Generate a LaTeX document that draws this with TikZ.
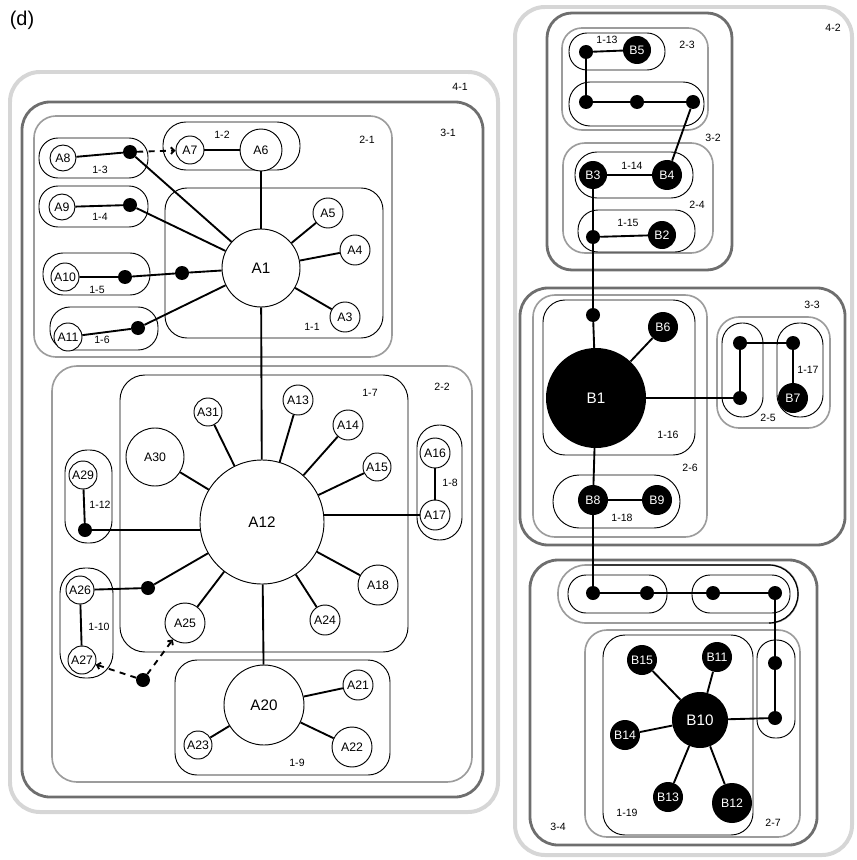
\documentclass[tikz,border=0pt]{standalone}
\usepackage{fontspec}
\setmainfont{Liberation Sans}
\usepackage{tikz}
\usetikzlibrary{arrows.meta}
\definecolor{CFour}{HTML}{D6D6D6}
\definecolor{CThree}{HTML}{6E6E6E}
\definecolor{CTwo}{HTML}{9C9C9C}

\begin{document}
\begin{tikzpicture}[x=0.3mm, y=-0.3mm, every node/.style={inner sep=0pt},
  anode/.style={circle, draw=black, line width=0.8pt, fill=white, minimum size=0.6mm*#1,
                font=\fontsize{10.5}{12}\selectfont},
  hub/.style ={anode=#1, font=\fontsize{13}{15}\selectfont},
  bnode/.style={circle, fill=black, text=white, minimum size=0.6mm*#1,
                font=\fontsize{10.5}{12}\selectfont},
  bhub/.style={bnode=#1, font=\fontsize{13}{15}\selectfont},
  jdot/.style={circle, fill=black, minimum size=4.2mm},
  lone/.style  ={draw=black, line width=0.8pt, rounded corners=0.3mm*#1},
  ltwo/.style  ={draw=CTwo, line width=1.4pt, rounded corners=0.3mm*#1},
  lthree/.style={draw=CThree, line width=2.4pt, rounded corners=0.3mm*#1},
  lfour/.style ={draw=CFour, line width=3.4pt, rounded corners=0.3mm*#1},
  tag/.style={font=\fontsize{9}{10}\selectfont},
  wire/.style={line width=1.6pt},
  weak/.style={wire, dash pattern=on 1.8mm off 1.6mm, -{Straight Barb[length=1mm]}}]
\useasboundingbox (0,0) rectangle (856,860);
\node[font=\fontsize{17}{20}\selectfont] (title) at (22,20) {(d)};
% group A
\draw[lfour=30]  (10,72) rectangle (498,812);
\draw[lthree=28] (22,102) rectangle (483,797);
\draw[ltwo=22]   (34,116) rectangle (392,357);
\draw[ltwo=25]   (52,366) rectangle (472,782);
\draw[lone=22]   (165,188) rectangle (383,338);
\draw[lone=23]   (163,122) rectangle (300,170);
\draw[lone=19]   (39,138) rectangle (148,178);
\draw[lone=19]   (39,186) rectangle (148,227);
\draw[lone=20]   (43,253) rectangle (150,295);
\draw[lone=20]   (50,307) rectangle (158,350);
\draw[lone=25]   (120,375) rectangle (408,652);
\draw[lone=22]   (417,425) rectangle (462,540);
\draw[lone=22]   (175,660) rectangle (390,775);
\draw[lone=25]   (60,568) rectangle (113,678);
\draw[lone=22]   (65,450) rectangle (112,543);
\node[tag] (t41) at (460,87) {4-1};
\node[tag] (t31) at (448,133) {3-1};
\node[tag] (t21) at (367,140) {2-1};
\node[tag] (t22) at (442,387) {2-2};
\node[tag] (t11) at (312,327) {1-1};
\node[tag] (t12) at (222,135) {1-2};
\node[tag] (t13) at (100,170) {1-3};
\node[tag] (t14) at (100,217) {1-4};
\node[tag] (t15) at (97,290) {1-5};
\node[tag] (t16) at (102,340) {1-6};
\node[tag] (t17) at (370,393) {1-7};
\node[tag] (t18) at (450,483) {1-8};
\node[tag] (t19) at (297,763) {1-9};
\node[tag] (t110) at (99,627) {1-10};
\node[tag] (t112) at (100,505) {1-12};
% group B
\draw[lfour=30]  (515,7) rectangle (852,855);
\draw[lthree=25] (547,13) rectangle (732,270);
\draw[ltwo=20]   (562,28) rectangle (708,130);
\draw[lone=18]   (569,33) rectangle (665,70);
\draw[lone=21]   (569,82) rectangle (704,126);
\draw[ltwo=22]   (563,143) rectangle (713,253);
\draw[lone=22]   (575,152) rectangle (693,198);
\draw[lone=20]   (578,210) rectangle (695,252);
\draw[lthree=28] (520,288) rectangle (845,545);
\draw[ltwo=22]   (533,295) rectangle (707,537);
\draw[lone=22]   (543,300) rectangle (695,455);
\draw[lone=26]   (553,475) rectangle (680,528);
\draw[ltwo=22]   (717,317) rectangle (830,428);
\draw[lone=20]   (722,323) rectangle (763,417);
\draw[lone=22]   (777,323) rectangle (823,417);
\draw[lthree=28] (530,560) rectangle (817,845);
\draw[ltwo=28]   (558,565) rectangle (798,623);
\draw[line width=1pt] (593,565) -- (769,565) arc[start angle=90, end angle=-90, radius=8.7mm];
\draw[lone=18]   (568,575) rectangle (667,613);
\draw[lone=18]   (692,575) rectangle (790,613);
\draw[ltwo=22]   (585,630) rectangle (800,837);
\draw[lone=22]   (603,635) rectangle (753,835);
\draw[lone=18]   (757,640) rectangle (795,738);
\node[tag] (t42) at (833,28) {4-2};
\node[tag] (t32) at (713,138) {3-2};
\node[tag] (t23) at (687,45) {2-3};
\node[tag] (t113) at (607,40) {1-13};
\node[tag] (t24) at (697,205) {2-4};
\node[tag] (t114) at (632,166) {1-14};
\node[tag] (t115) at (628,223) {1-15};
\node[tag] (t33) at (812,305) {3-3};
\node[tag] (t26) at (690,468) {2-6};
\node[tag] (t116) at (668,435) {1-16};
\node[tag] (t118) at (622,518) {1-18};
\node[tag] (t25) at (768,418) {2-5};
\node[tag] (t117) at (808,370) {1-17};
\node[tag] (t34) at (558,827) {3-4};
\node[tag] (t27) at (773,823) {2-7};
\node[tag] (t119) at (627,813) {1-19};
% A nodes
\node[hub=39]   (A1)  at (261,268) {A1};
\node[anode=15] (A3)  at (345,317) {A3};
\node[anode=15] (A4)  at (355,250) {A4};
\node[anode=15] (A5)  at (328,213) {A5};
\node[anode=21] (A6)  at (261,150) {A6};
\node[anode=14] (A7)  at (190,150) {A7};
\node[anode=13] (A8)  at (63,158) {A8};
\node[anode=13] (A9)  at (62,207) {A9};
\node[anode=14] (A10) at (65,277) {A10};
\node[anode=14] (A11) at (68,337) {A11};
\node[jdot] (d8)   at (130,152) {};
\node[jdot] (d9)   at (130,205) {};
\node[jdot] (d10a) at (125,277) {};
\node[jdot] (d10b) at (182,273) {};
\node[jdot] (d11)  at (138,328) {};
\node[hub=62]   (A12) at (262,522) {A12};
\node[anode=15] (A13) at (298,400) {A13};
\node[anode=15] (A14) at (348,425) {A14};
\node[anode=14] (A15) at (377,467) {A15};
\node[anode=15] (A16) at (435,453) {A16};
\node[anode=15] (A17) at (435,515) {A17};
\node[anode=20] (A18) at (378,585) {A18};
\node[hub=40]   (A20) at (264,705) {A20};
\node[anode=15] (A21) at (358,685) {A21};
\node[anode=20] (A22) at (352,747) {A22};
\node[anode=14] (A23) at (198,745) {A23};
\node[anode=15] (A24) at (325,620) {A24};
\node[anode=20] (A25) at (185,623) {A25};
\node[anode=14] (A26) at (80,590) {A26};
\node[anode=14] (A27) at (82,660) {A27};
\node[anode=14] (A29) at (83,475) {A29};
\node[anode=29] (A30) at (155,457) {A30};
\node[anode=14] (A31) at (208,412) {A31};
\node[jdot] (d29) at (85,530) {};
\node[jdot] (d26) at (148,588) {};
\node[jdot] (d27) at (143,680) {};
% B nodes
\node[bnode=14] (B5) at (637,50) {B5};
\node[jdot] (e13) at (586,52) {};
\node[jdot] (e1)  at (586,102) {};
\node[jdot] (e2)  at (637,102) {};
\node[jdot] (e3)  at (693,102) {};
\node[bnode=14] (B3) at (593,175) {B3};
\node[bnode=15] (B4) at (667,175) {B4};
\node[jdot] (e15) at (593,237) {};
\node[bnode=14] (B2) at (662,235) {B2};
\node[jdot] (e16) at (593,315) {};
\node[bhub=50]  (B1) at (596,398) {B1};
\node[bnode=15] (B6) at (663,327) {B6};
\node[jdot] (f1)  at (740,343) {};
\node[jdot] (f2)  at (740,398) {};
\node[jdot] (f17) at (793,343) {};
\node[bnode=15] (B7) at (793,398) {B7};
\node[bnode=15] (B8) at (593,500) {B8};
\node[bnode=15] (B9) at (657,500) {B9};
\node[jdot] (g1) at (593,593) {};
\node[jdot] (g2) at (647,593) {};
\node[jdot] (g3) at (713,593) {};
\node[jdot] (g4) at (775,593) {};
\node[jdot] (h1) at (775,663) {};
\node[jdot] (h2) at (775,718) {};
\node[bhub=28]  (B10) at (700,720) {B10};
\node[bnode=15] (B15) at (642,660) {B15};
\node[bnode=15] (B11) at (717,657) {B11};
\node[bnode=15] (B14) at (625,735) {B14};
\node[bnode=15] (B13) at (668,797) {B13};
\node[bnode=20] (B12) at (732,803) {B12};
% A links
\foreach \n in {A3,A4,A5,A6,d8,d9,d10b,d11,A12} {\draw[wire] (A1) -- (\n);}
\draw[wire] (d8) -- (A8); \draw[wire] (d9) -- (A9); \draw[wire] (d11) -- (A11);
\draw[wire] (A10) -- (d10a) -- (d10b); \draw[wire] (A7) -- (A6);
\draw[weak] (d8) -- (A7);
\foreach \n in {A13,A14,A15,A18,A20,A24,A25,A30,A31,d26} {\draw[wire] (A12) -- (\n);}
\draw[wire] (A17) -- (A12.east |- A17); \draw[wire] (d29) -- (A12.west |- d29);
\draw[wire] (A16) -- (A17); \draw[wire] (A29) -- (d29);
\draw[wire] (A26) -- (d26); \draw[wire] (A26) -- (A27);
\draw[weak] (d27) -- (A27); \draw[weak] (d27) -- (A25);
\foreach \n in {A21,A22,A23} {\draw[wire] (A20) -- (\n);}
% B links
\draw[wire] (B5) -- (e13) -- (e1) -- (e2) -- (e3) -- (B4);
\draw[wire] (B3) -- (B4); \draw[wire] (B3) -- (e15) -- (e16) -- (B1);
\draw[wire] (e15) -- (B2);
\draw[wire] (B1) -- (B6); \draw[wire] (B1) -- (f2) -- (f1) -- (f17) -- (B7);
\draw[wire] (B1) -- (B8); \draw[wire] (B8) -- (B9);
\draw[wire] (B8) -- (g1) -- (g2) -- (g3) -- (g4) -- (h1) -- (h2) -- (B10);
\foreach \n in {B11,B12,B13,B14,B15} {\draw[wire] (B10) -- (\n);}
\end{tikzpicture}
\end{document}
